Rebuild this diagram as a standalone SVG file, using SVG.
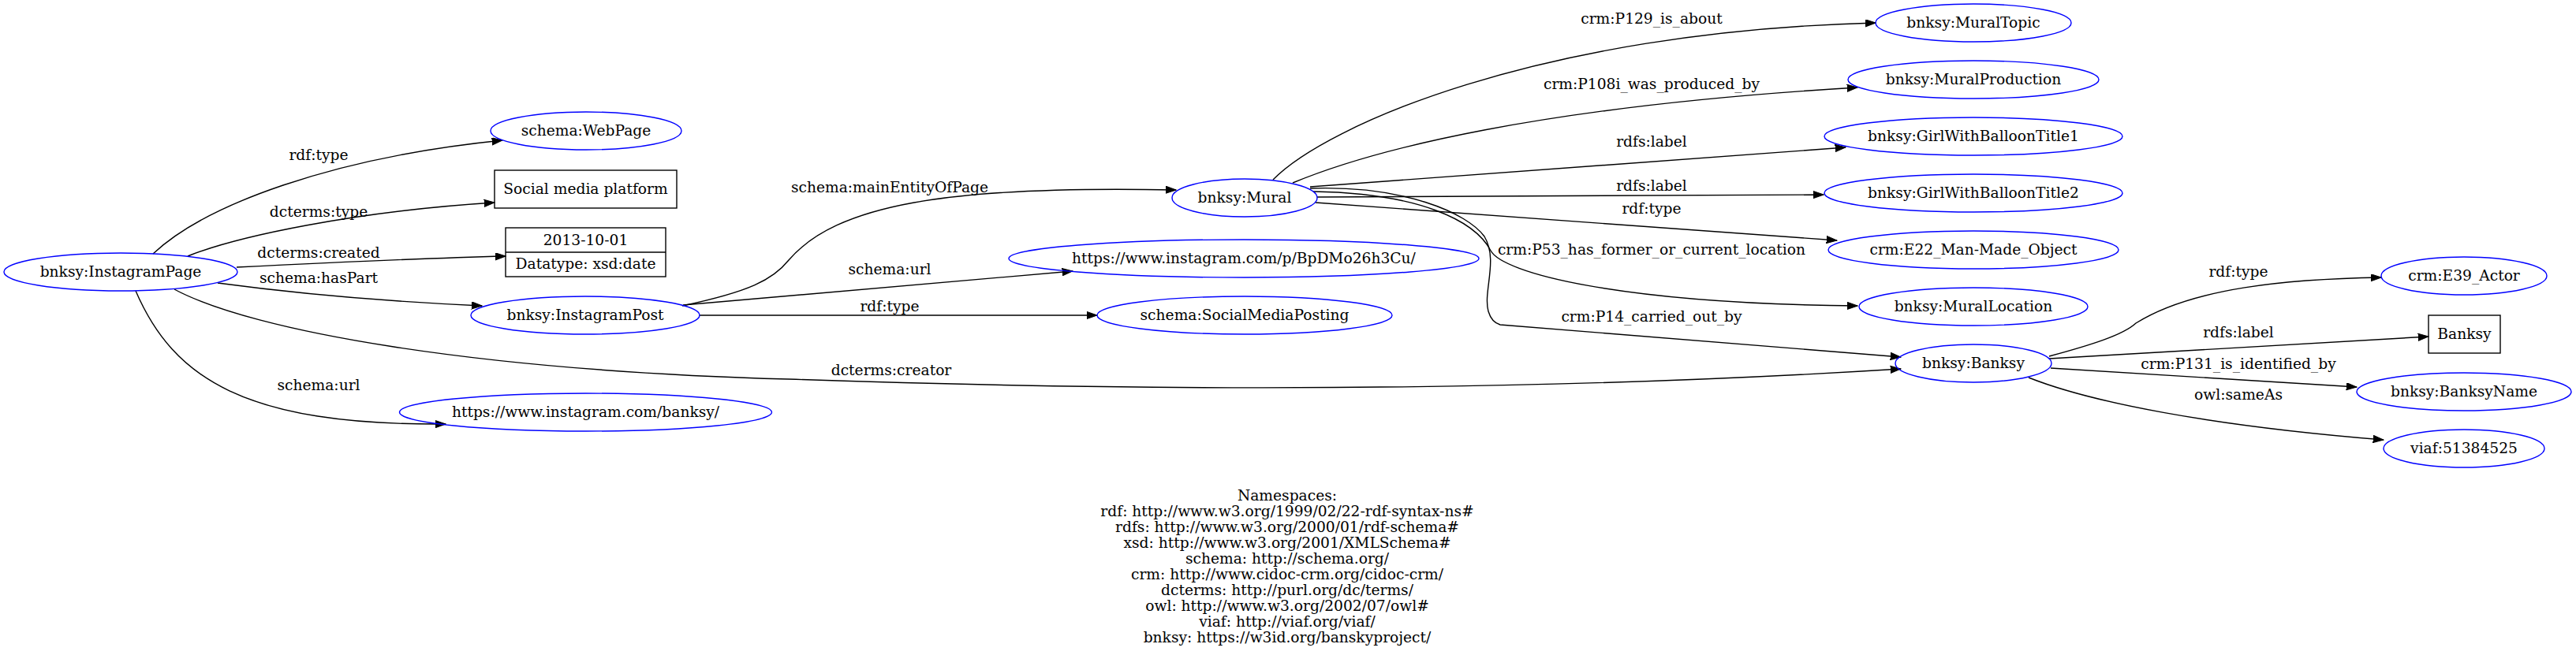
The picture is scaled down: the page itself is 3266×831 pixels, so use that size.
<svg xmlns="http://www.w3.org/2000/svg" width="3266" height="831" viewBox="0 0 3266 831">
<defs>
<style>
text{font-family:"DejaVu Serif","Liberation Serif",serif;font-size:18.67px;fill:#000;text-anchor:middle}
.node ellipse{fill:none;stroke:#0000ff;stroke-width:1.4}
.node rect,.node line{fill:none;stroke:#000;stroke-width:1.4}
.edges path{fill:none;stroke:#000;stroke-width:1.4;marker-end:url(#arr)}
</style>
<marker id="arr" markerWidth="14" markerHeight="10" refX="13.3" refY="4.67" orient="auto" markerUnits="userSpaceOnUse"><path d="M0,0 L13.3,4.67 L0,9.33 z" fill="#000" stroke="#000" stroke-width="1"/></marker>
</defs>
<rect x="0" y="0" width="3266" height="831" fill="#fff"/>

<g id="edges" class="edges">
<path d="M194,322 C260,260 420,200 637,178"/>
<path d="M238,325 C300,300 450,268 627,257"/>
<path d="M300,339 C400,334 520,328 641,325"/>
<path d="M276,359 C380,373 500,383 611,388"/>
<path d="M221,367 C320,420 600,470 1000,481 C1400,495 1900,500 2410,468"/>
<path d="M172,369 C220,480 310,540 565,538"/>
<path d="M865,388 C950,370 980,355 1000,330 C1060,260 1200,235 1491,241"/>
<path d="M866,387 L1360,344"/>
<path d="M887,400 L1391,400"/>
<path d="M1614,228 C1680,160 1950,40 2378,29"/>
<path d="M1639,232 C1740,190 1950,135 2355,111"/>
<path d="M1661,237 L2340,187"/>
<path d="M1670,250 L2312,247"/>
<path d="M1668,257 L2329,305"/>
<path d="M1665,243 C1800,245 1870,280 1890,318 C1905,346 2050,385 2355,388"/>
<path d="M1661,239 C1780,235 1860,270 1882,300 C1900,330 1880,370 1887,395 C1890,405 1895,410 1902,412 L2410,453"/>
<path d="M2598,452 C2650,438 2692,425 2708,410 C2780,365 2900,354 3019,352"/>
<path d="M2598,455 L3079,427"/>
<path d="M2600,467 L2988,491"/>
<path d="M2572,479 C2650,510 2800,540 3022,558"/>
<g id="edge-labels">
<text x="404" y="203">rdf:type</text>
<text x="404" y="275">dcterms:type</text>
<text x="404" y="327">dcterms:created</text>
<text x="404" y="359">schema:hasPart</text>
<text x="1130" y="476">dcterms:creator</text>
<text x="404" y="495">schema:url</text>
<text x="1128" y="244">schema:mainEntityOfPage</text>
<text x="1128" y="348">schema:url</text>
<text x="1128" y="395">rdf:type</text>
<text x="2094" y="30">crm:P129_is_about</text>
<text x="2094" y="113">crm:P108i_was_produced_by</text>
<text x="2094" y="186">rdfs:label</text>
<text x="2094" y="242">rdfs:label</text>
<text x="2094" y="271">rdf:type</text>
<text x="2094" y="323">crm:P53_has_former_or_current_location</text>
<text x="2094" y="408">crm:P14_carried_out_by</text>
<text x="2838" y="351">rdf:type</text>
<text x="2838" y="428">rdfs:label</text>
<text x="2838" y="468">crm:P131_is_identified_by</text>
<text x="2838" y="507">owl:sameAs</text>
</g>
</g>

<g id="n-instagrampage" class="node"><ellipse cx="153" cy="345" rx="148" ry="24"/><text x="153" y="351">bnksy:InstagramPage</text></g>
<g id="n-webpage" class="node"><ellipse cx="743" cy="166" rx="121" ry="24"/><text x="743" y="172">schema:WebPage</text></g>
<g id="n-socialmedia" class="node"><rect x="627" y="216" width="231" height="48"/><text x="742.5" y="246">Social media platform</text></g>
<g id="n-date" class="node"><rect x="641" y="289" width="203" height="62"/><line x1="641" y1="320" x2="844" y2="320"/><text x="742.5" y="311">2013-10-01</text><text x="742.5" y="341">Datatype: xsd:date</text></g>
<g id="n-instagrampost" class="node"><ellipse cx="742" cy="400" rx="145" ry="24"/><text x="742" y="406">bnksy:InstagramPost</text></g>
<g id="n-banksyurl" class="node"><ellipse cx="742.5" cy="523" rx="236" ry="24"/><text x="742.5" y="529">https://www.instagram.com/banksy/</text></g>
<g id="n-mural" class="node"><ellipse cx="1578" cy="251" rx="92" ry="24"/><text x="1578" y="257">bnksy:Mural</text></g>
<g id="n-posturl" class="node"><ellipse cx="1577" cy="328" rx="298" ry="24"/><text x="1577" y="334">https://www.instagram.com/p/BpDMo26h3Cu/</text></g>
<g id="n-smposting" class="node"><ellipse cx="1578" cy="400" rx="187" ry="24"/><text x="1578" y="406">schema:SocialMediaPosting</text></g>
<g id="n-muraltopic" class="node"><ellipse cx="2502" cy="29" rx="124" ry="24"/><text x="2502" y="35">bnksy:MuralTopic</text></g>
<g id="n-muralproduction" class="node"><ellipse cx="2502" cy="101" rx="159" ry="24"/><text x="2502" y="107">bnksy:MuralProduction</text></g>
<g id="n-title1" class="node"><ellipse cx="2502" cy="173" rx="189" ry="24"/><text x="2502" y="179">bnksy:GirlWithBalloonTitle1</text></g>
<g id="n-title2" class="node"><ellipse cx="2502" cy="245" rx="189" ry="24"/><text x="2502" y="251">bnksy:GirlWithBalloonTitle2</text></g>
<g id="n-e22" class="node"><ellipse cx="2502" cy="317" rx="184" ry="24"/><text x="2502" y="323">crm:E22_Man-Made_Object</text></g>
<g id="n-murallocation" class="node"><ellipse cx="2502" cy="389" rx="145" ry="24"/><text x="2502" y="395">bnksy:MuralLocation</text></g>
<g id="n-banksy" class="node"><ellipse cx="2502" cy="461" rx="99" ry="24"/><text x="2502" y="467">bnksy:Banksy</text></g>
<g id="n-e39" class="node"><ellipse cx="3124" cy="350" rx="105" ry="24"/><text x="3124" y="356">crm:E39_Actor</text></g>
<g id="n-banksylabel" class="node"><rect x="3079" y="400" width="91" height="48"/><text x="3124.5" y="430">Banksy</text></g>
<g id="n-banksyname" class="node"><ellipse cx="3124" cy="497" rx="136" ry="24"/><text x="3124" y="503">bnksy:BanksyName</text></g>
<g id="n-viaf" class="node"><ellipse cx="3124" cy="569" rx="102" ry="24"/><text x="3124" y="575">viaf:51384525</text></g>

<g id="namespaces">
<text x="1632" y="635">Namespaces:</text>
<text x="1632" y="655">rdf: http://www.w3.org/1999/02/22-rdf-syntax-ns#</text>
<text x="1632" y="675">rdfs: http://www.w3.org/2000/01/rdf-schema#</text>
<text x="1632" y="695">xsd: http://www.w3.org/2001/XMLSchema#</text>
<text x="1632" y="715">schema: http://schema.org/</text>
<text x="1632" y="735">crm: http://www.cidoc-crm.org/cidoc-crm/</text>
<text x="1632" y="755">dcterms: http://purl.org/dc/terms/</text>
<text x="1632" y="775">owl: http://www.w3.org/2002/07/owl#</text>
<text x="1632" y="795">viaf: http://viaf.org/viaf/</text>
<text x="1632" y="815">bnksy: https://w3id.org/banskyproject/</text>
</g>
</svg>
